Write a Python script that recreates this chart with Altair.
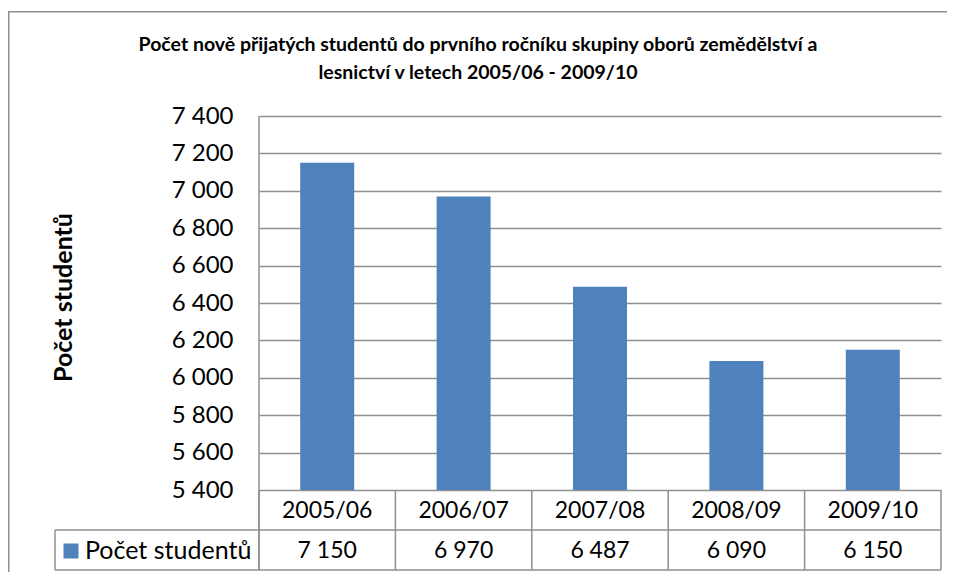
import altair as alt
import pandas as pd

# ---- data ----
years = ["2005/06", "2006/07", "2007/08", "2008/09", "2009/10"]
students = [7150, 6970, 6487, 6090, 6150]
series_name = "Počet studentů"
y_ticks = [5400, 5600, 5800, 6000, 6200, 6400, 6600, 6800, 7000, 7200, 7400]
title_lines = [
    "Počet  nově přijatých studentů do prvního ročníku skupiny oborů zemědělství a",
    "lesnictví v letech 2005/06 - 2009/10",
]

df = pd.DataFrame({"year": years, "students": students})
df["label"] = [f"{v:,}".replace(",", " ") for v in students]
one = pd.DataFrame({"series": [series_name]})
title_df = pd.DataFrame({"line": title_lines, "row": [0, 1]})

FONT = "Lato"
GRID = "#8f8f8f"
BAR = "#4F81BD"

W = 682
PLOT_H = 374
ROW = 40
H = PLOT_H + 2 * ROW
TOP = 108
LEFT = 251
RIGHT = 6

x_enc = alt.X("year:N", sort=years, axis=None,
              scale=alt.Scale(paddingInner=0, paddingOuter=0))
y_scale = alt.Scale(domain=[y_ticks[0], y_ticks[-1]], range=[PLOT_H, 0], zero=False, nice=False)

bars = alt.Chart(df).mark_bar(color=BAR, size=54).encode(
    x=x_enc,
    y=alt.Y("students:Q", scale=y_scale,
            axis=alt.Axis(values=y_ticks, grid=True, ticks=False, domain=False,
                          gridColor=GRID, gridWidth=1.5,
                          labelFont=FONT, labelFontSize=24, labelColor="#000",
                          labelPadding=26,
                          labelExpr="replace(format(datum.value, ','), ',', ' ')",
                          title=series_name, titleFont=FONT, titleFontSize=25,
                          titleFontWeight="bold", titleColor="#000",
                          titleX=-196, titleY=181, titleBaseline="middle", titleAngle=-90)),
    y2=alt.datum(y_ticks[0]),
)

# table: category row and value row
cat_text = alt.Chart(df).mark_text(font=FONT, fontSize=23, color="#000", baseline="middle").encode(
    x=x_enc, y=alt.value(PLOT_H + ROW / 2 + 1), text="year:N")
val_text = alt.Chart(df).mark_text(font=FONT, fontSize=23, color="#000", baseline="middle").encode(
    x=x_enc, y=alt.value(PLOT_H + ROW * 1.5 + 1), text="label:N")

# table vertical lines at band starts
vlines = alt.Chart(df).mark_rule(color=GRID, strokeWidth=1.5).encode(
    x=alt.X("year:N", sort=years, axis=None, bandPosition=0,
            scale=alt.Scale(paddingInner=0, paddingOuter=0)),
    y=alt.value(PLOT_H), y2=alt.value(H))

rule = lambda **kw: alt.Chart(one).mark_rule(color=GRID, strokeWidth=1.5).encode(**kw)
left_axis = rule(x=alt.value(0), y=alt.value(0), y2=alt.value(H))
right_edge = rule(x=alt.value(W), y=alt.value(PLOT_H), y2=alt.value(H))
row_line1 = rule(x=alt.value(-204), x2=alt.value(W), y=alt.value(PLOT_H + ROW))
row_line2 = rule(x=alt.value(-204), x2=alt.value(W), y=alt.value(H))
legend_left = rule(x=alt.value(-204), y=alt.value(PLOT_H + ROW), y2=alt.value(H))

# outer chart frame (top and left edges; right/bottom lie beyond the picture), as thin filled strips
strip = lambda **kw: alt.Chart(one).mark_rect(color=GRID, opacity=1).encode(**kw)
frame_top = strip(x=alt.value(-251), x2=alt.value(W + RIGHT), y=alt.value(-105), y2=alt.value(-103.5))
frame_left = strip(x=alt.value(-251), x2=alt.value(-249.5), y=alt.value(-105), y2=alt.value(H + 2))

legend_sq = alt.Chart(one).mark_square(color=BAR, size=225, opacity=1).encode(
    x=alt.value(-188), y=alt.value(PLOT_H + ROW * 1.5 + 1))
legend_txt = alt.Chart(one).mark_text(font=FONT, fontSize=25, color="#000",
                                      align="left", baseline="middle").encode(
    x=alt.value(-174), y=alt.value(PLOT_H + ROW * 1.5 + 1), text="series:N")

title_txt = alt.Chart(title_df).mark_text(font=FONT, fontSize=19.5, fontWeight="bold",
                                          color="#000", baseline="middle").encode(
    x=alt.value(219),
    y=alt.Y("row:Q", axis=None, scale=alt.Scale(domain=[0, 1], range=[-71, -43])),
    text="line:N")

chart = alt.layer(
    bars, cat_text, val_text, vlines, left_axis, right_edge,
    row_line1, row_line2, legend_left, frame_top, frame_left,
    legend_sq, legend_txt, title_txt,
).properties(
    width=W, height=H,
    autosize=alt.AutoSizeParams(type="none"),
    padding={"left": LEFT, "top": TOP, "right": RIGHT, "bottom": 2},
).resolve_scale(y="independent").configure_view(stroke=None)

chart.save("out.html", embed_options={"renderer": "svg", "actions": False})
